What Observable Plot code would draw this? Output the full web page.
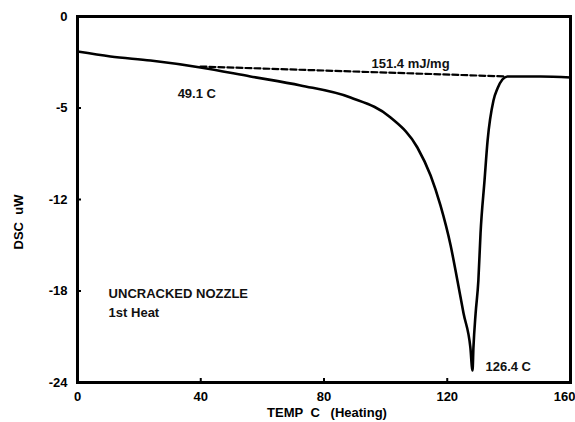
<!DOCTYPE html>
<html>
<head>
<meta charset="utf-8">
<script src="https://cdn.jsdelivr.net/npm/d3@7"></script>
<script src="https://cdn.jsdelivr.net/npm/@observablehq/plot@0.6"></script>
<style>
  html, body { margin: 0; padding: 0; background: #fff; }
  #chart svg { display: block; }
</style>
</head>
<body>
<div id="chart"></div>
<script>
// Temperature (C) and DSC signal (uW)
const temps = [0, 10.7, 23.7, 39.9, 56.1, 72.4, 88.6, 101.6, 110.3, 114.6, 117.8, 121.1, 123.3, 125.3, 127.5, 128.2, 128.5, 129.2, 130.1, 130.8, 132.1, 133.1, 135.0, 136.3, 137.9, 139.5, 150.3, 160];
const dsc   = [-2.30, -2.62, -2.89, -3.34, -3.93, -4.52, -5.31, -6.62, -8.59, -10.43, -12.39, -15.02, -17.31, -19.48, -21.70, -23.21, -21.70, -19.48, -17.31, -14.23, -10.75, -8.13, -5.51, -4.72, -4.13, -3.93, -3.93, -4.00];

// Integration baseline (dashed)
const baseTemps = [39.9, 138.9];
const baseDsc   = [-3.28, -3.93];

// Axis ticks (labels as printed on the original)
const xTicks = [0, 40, 80, 120, 160];
const yTicks = [0, -6, -12, -18, -24];
const yTickLabels = ["0", "-5", "-12", "-18", "-24"];

// Annotations
const noteTexts = ["49.1 C", "126.4 C", "UNCRACKED NOZZLE", "1st Heat"];
const noteX     = [32.5, 132.4, 10.1, 10.1];
const noteY     = [-5.05, -22.95, -18.16, -19.41];
const energyText = ["151.4 mJ/mg"];
const energyX = [108.1];
const energyY = [-3.08];

const curve = temps.map((t, i) => ({t, v: dsc[i]}));
const base = baseTemps.map((t, i) => ({t, v: baseDsc[i]}));
const notes = noteTexts.map((s, i) => ({s, x: noteX[i], y: noteY[i]}));
const energy = energyText.map((s, i) => ({s, x: energyX[i], y: energyY[i]}));

const font = "Liberation Sans, Arial, sans-serif";
const xInner = xTicks.slice(0, -1);
const xLast = xTicks.slice(-1);

const chart = Plot.plot({
  width: 575,
  height: 422,
  marginLeft: 77,
  marginRight: 5,
  marginTop: 16,
  marginBottom: 40,
  style: {fontFamily: font, fontSize: "13px", fontWeight: "bold", color: "#000", background: "#fff"},
  x: {domain: [0, 160]},
  y: {domain: [-24, 0]},
  marks: [
    Plot.axisX({ticks: xInner, tickSize: 0, tickPadding: 9, fontSize: 13, fontWeight: "bold", label: null}),
    Plot.axisX({ticks: xLast, tickSize: 0, tickPadding: 9, fontSize: 13, fontWeight: "bold", label: null, textAnchor: "end", dx: 5}),
    Plot.axisX({ticks: xTicks, tickSize: -4, text: null, label: null, strokeWidth: 2}),
    Plot.axisY({ticks: yTicks, tickSize: 0, tickPadding: 10, tickFormat: (d) => yTickLabels[yTicks.indexOf(d)], fontSize: 13, fontWeight: "bold", label: null}),
    Plot.axisY({ticks: yTicks, tickSize: -4, text: null, label: null, strokeWidth: 2}),
    Plot.line(base, {x: "t", y: "v", stroke: "#000", strokeWidth: 2.2, strokeDasharray: "6,3"}),
    Plot.line(curve, {x: "t", y: "v", stroke: "#000", strokeWidth: 2.6, curve: "monotone-x"}),
    Plot.text(notes, {x: "x", y: "y", text: "s", textAnchor: "start", fontSize: 13, fontWeight: "bold", fill: "#111"}),
    Plot.text(energy, {x: "x", y: "y", text: "s", textAnchor: "middle", fontSize: 13, fontWeight: "bold", fill: "#111"}),
    Plot.frame({stroke: "#000", strokeWidth: 3})
  ]
});

// axis titles placed outside the frame
const svg = d3.select(chart);
svg.append("text")
  .attr("x", 327).attr("y", 417)
  .attr("text-anchor", "middle")
  .attr("font-family", font).attr("font-size", 13).attr("font-weight", "bold")
  .text("TEMP\u00a0\u00a0C\u00a0\u00a0\u00a0(Heating)");
svg.append("text")
  .attr("transform", "translate(23,222) rotate(-90)")
  .attr("text-anchor", "middle")
  .attr("font-family", font).attr("font-size", 13).attr("font-weight", "bold")
  .text("DSC\u00a0\u00a0uW");

document.getElementById("chart").appendChild(chart);
</script>
</body>
</html>
